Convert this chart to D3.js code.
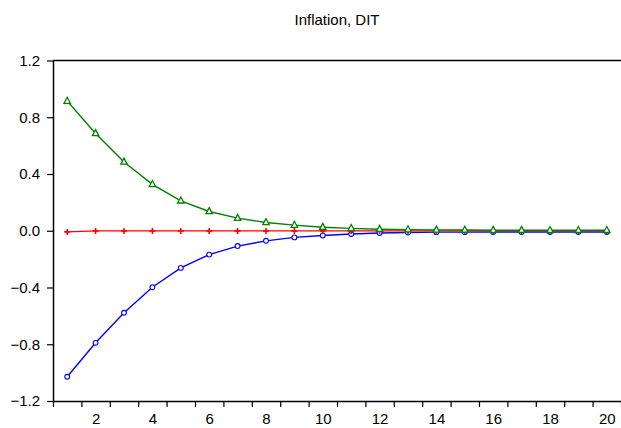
<!DOCTYPE html>
<html>
<head>
<meta charset="utf-8">
<script src="https://cdn.jsdelivr.net/npm/d3@7"></script>
<style>
  body { margin: 0; background: #fff; }
  svg text { font-family: Arial, "Liberation Sans", sans-serif; fill: #000; }
</style>
</head>
<body>
<div id="chart"></div>
<script>
// periods 1..20
var periods = d3.range(1, 21);
// responses
var greenVals = [0.914, 0.686, 0.485, 0.327, 0.211, 0.136, 0.089, 0.058, 0.040, 0.025,
                 0.017, 0.011, 0.008, 0.006, 0.005, 0.004, 0.004, 0.003, 0.003, 0.003];
var redVals = [-0.008, -0.001, -0.001, -0.001, -0.001, -0.001, -0.001, -0.001, -0.001, -0.001,
               -0.001, -0.001, -0.001, -0.001, -0.001, -0.001, -0.001, -0.001, -0.001, -0.001];
var blueVals = [-1.029, -0.790, -0.578, -0.398, -0.262, -0.168, -0.108, -0.071, -0.047, -0.033,
                -0.023, -0.016, -0.012, -0.010, -0.010, -0.009, -0.009, -0.009, -0.009, -0.009];
var yTicks = [-1.2, -0.8, -0.4, 0.0, 0.4, 0.8, 1.2];
var xLabels = [2, 4, 6, 8, 10, 12, 14, 16, 18, 20];
var title = 'Inflation, DIT';

(function() {
    'use strict';
    var W = 621, H = 428, FONT = 15,
        left = 53, right = 621, top = 60.5, bottom = 401;

    var svg = d3.select('#chart').append('svg')
        .attr('width', W).attr('height', H);

    var x = d3.scaleLinear().domain([0.5, 20.5]).range([left, right]);
    var y = d3.scaleLinear().domain([-1.2, 1.2]).range([bottom, top]);

    // title
    svg.append('text')
        .attr('x', (left + right) / 2).attr('y', 25)
        .attr('text-anchor', 'middle')
        .attr('font-size', FONT)
        .text(title);

    // top frame line
    svg.append('line')
        .attr('x1', left).attr('x2', right)
        .attr('y1', top).attr('y2', top)
        .attr('stroke', '#000').attr('stroke-width', 1.5);

    // bottom axis: ticks between observations
    var xTickVals = d3.range(0, 21).map(function(d) { return d + 0.5; });
    var gx = svg.append('g')
        .attr('transform', 'translate(0,' + bottom + ')')
        .call(d3.axisBottom(x).tickValues(xTickVals).tickFormat('').tickSize(6).tickSizeOuter(0));
    gx.select('.domain').attr('stroke', '#000').attr('stroke-width', 1.5);
    gx.selectAll('.tick line').attr('stroke', '#000').attr('stroke-width', 1.2);

    // x labels on the observations
    var gxl = svg.append('g')
        .attr('transform', 'translate(0,' + bottom + ')')
        .call(d3.axisBottom(x).tickValues(xLabels).tickFormat(d3.format('d')).tickSize(0).tickPadding(12));
    gxl.select('.domain').remove();
    gxl.selectAll('text').attr('font-size', FONT).attr('font-family', 'Arial, "Liberation Sans", sans-serif');

    // left axis
    var gy = svg.append('g')
        .attr('transform', 'translate(' + left + ',0)')
        .call(d3.axisLeft(y).tickValues(yTicks).tickFormat(d3.format('.1f')).tickSize(6).tickSizeOuter(0).tickPadding(7));
    gy.select('.domain').attr('stroke', '#000').attr('stroke-width', 1.5);
    gy.selectAll('.tick line').attr('stroke', '#000').attr('stroke-width', 1.2);
    gy.selectAll('text').attr('font-size', FONT).attr('font-family', 'Arial, "Liberation Sans", sans-serif');

    var line = d3.line()
        .x(function(d, i) { return x(periods[i]); })
        .y(function(d) { return y(d); });

    var series = [
        {vals: blueVals, color: '#0000ff', marker: 'circle'},
        {vals: redVals, color: '#ff0000', marker: 'plus'},
        {vals: greenVals, color: '#008000', marker: 'triangle'}
    ];

    series.forEach(function(s) {
        svg.append('path')
            .datum(s.vals)
            .attr('d', line)
            .attr('fill', 'none')
            .attr('stroke', s.color)
            .attr('stroke-width', 1.4);

        var pts = svg.append('g').selectAll('g')
            .data(s.vals).enter().append('g')
            .attr('transform', function(d, i) {
                return 'translate(' + x(periods[i]) + ',' + y(d) + ')';
            });

        switch (s.marker) {
        case 'circle':
            pts.append('circle').attr('r', 2.4)
                .attr('fill', '#fff').attr('stroke', s.color).attr('stroke-width', 1.1);
            break;
        case 'plus':
            pts.append('path').attr('d', 'M-3,0H3M0,-3V3')
                .attr('stroke', s.color).attr('stroke-width', 1.6);
            break;
        case 'triangle':
            pts.append('path').attr('d', 'M0,-3.8L3.2,2.2L-3.2,2.2Z')
                .attr('fill', '#fff').attr('stroke', s.color).attr('stroke-width', 1.3);
            break;
        }
    });
}());
</script>
</body>
</html>
